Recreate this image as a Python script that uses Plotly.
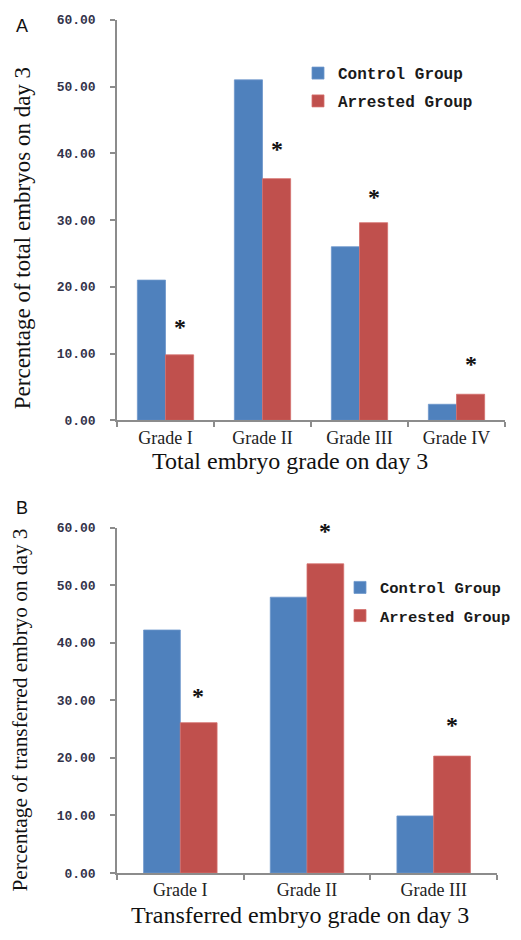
import plotly.graph_objects as go

W, H = 521, 940

# ---------------- data ----------------
cats_a = ["Grade I", "Grade II", "Grade III", "Grade IV"]
control_a = [21.0, 51.0, 26.0, 2.4]
arrested_a = [9.8, 36.2, 29.6, 3.9]
star_a = [14.8, 41.6, 34.4, 9.4]          # asterisk heights (significance marks)

cats_b = ["Grade I", "Grade II", "Grade III"]
control_b = [42.2, 47.9, 9.9]
arrested_b = [26.1, 53.7, 20.3]
star_b = [31.8, 60.5, 26.7]

series_names = ["Control Group", "Arrested Group"]
yticks = [0, 10, 20, 30, 40, 50, 60]
ytick_text = ["0.00", "10.00", "20.00", "30.00", "40.00", "50.00", "60.00"]
YMAX = 60

BLUE = "#4F81BD"
RED = "#C0504D"
AXIS = "#8c8c8c"
SERIF = "Liberation Serif, Times New Roman, serif"
MONO = "Liberation Mono, Courier New, monospace"

# panel geometry in pixels (left, right, top, bottom)
A_BOX = (117, 505, 14, 421)
B_BOX = (117, 497, 530, 881)

fig = go.Figure()

fig.add_trace(go.Bar(x=cats_a, y=control_a, name=series_names[0], marker_color=BLUE,
                     marker_line=dict(color="#6d97cc", width=0.8),
                     xaxis="x", yaxis="y", legend="legend", legendgroup="a1"))
fig.add_trace(go.Bar(x=cats_a, y=arrested_a, name=series_names[1], marker_color=RED,
                     marker_line=dict(color="#d46f6c", width=0.8),
                     xaxis="x", yaxis="y", legend="legend", legendgroup="a2"))
fig.add_trace(go.Bar(x=cats_b, y=control_b, name=series_names[0], marker_color=BLUE,
                     marker_line=dict(color="#6d97cc", width=0.8),
                     xaxis="x2", yaxis="y2", legend="legend2", legendgroup="b1"))
fig.add_trace(go.Bar(x=cats_b, y=arrested_b, name=series_names[1], marker_color=RED,
                     marker_line=dict(color="#d46f6c", width=0.8),
                     xaxis="x2", yaxis="y2", legend="legend2", legendgroup="b2"))

def px_x(p):
    return p / W

def px_y(p):
    return 1 - p / H

xcommon = dict(showline=True, linecolor=AXIS, linewidth=1.5, ticks="outside",
               tickson="boundaries", ticklen=5, tickcolor=AXIS, tickwidth=1.5,
               showgrid=False, zeroline=False,
               tickfont=dict(family=SERIF, size=18, color="#222222"))
ycommon = dict(showline=True, linecolor=AXIS, linewidth=1.5, ticks="outside",
               ticklen=5, tickcolor=AXIS, tickwidth=1.5, showgrid=False,
               zeroline=False, range=[0, YMAX], tickvals=yticks, ticktext=ytick_text,
               ticklabelstandoff=12,
               tickfont=dict(family=MONO, size=13, color="#33334a", weight="bold"))

fig.update_layout(
    width=W, height=H,
    margin=dict(l=0, r=0, t=0, b=0),
    paper_bgcolor="white", plot_bgcolor="white",
    barmode="group", bargap=0.42, bargroupgap=0,
    showlegend=True,
    xaxis=dict(domain=[px_x(A_BOX[0]), px_x(A_BOX[1])], anchor="y", **xcommon),
    yaxis=dict(domain=[px_y(A_BOX[3]), px_y(A_BOX[2])], anchor="x", **ycommon),
    xaxis2=dict(domain=[px_x(B_BOX[0]), px_x(B_BOX[1])], anchor="y2", **xcommon),
    yaxis2=dict(domain=[px_y(B_BOX[3]), px_y(B_BOX[2])], anchor="x2", **ycommon),
    legend=dict(x=px_x(298), y=px_y(51), xanchor="left", yanchor="top",
                bgcolor="rgba(0,0,0,0)", tracegroupgap=4, itemwidth=30,
                font=dict(family=MONO, size=16, color="#1a1a1a", weight="bold")),
    legend2=dict(x=px_x(340), y=px_y(574), xanchor="left", yanchor="top",
                 bgcolor="rgba(0,0,0,0)", tracegroupgap=5, itemwidth=30,
                 font=dict(family=MONO, size=15.5, color="#1a1a1a", weight="bold")),
)

ann = []

def stars(cats, vals, xref, yref, box, xshift):
    ppu = (box[3] - box[2]) / YMAX   # pixels per unit, for marks above the axis top
    out = []
    for c, s in zip(cats, vals):
        yv = min(s, YMAX)
        out.append(dict(x=c, y=yv, xref=xref, yref=yref, text="*", showarrow=False,
                        xshift=xshift, yshift=-6 + (s - yv) * ppu,
                        font=dict(family=SERIF, size=24, color="#111111", weight="bold")))
    return out

ann += stars(cats_a, star_a, "x", "y", A_BOX, 14)
ann += stars(cats_b, star_b, "x2", "y2", B_BOX, 18)

def label(x, y, text, size, family, angle=0):
    return dict(x=px_x(x), y=px_y(y), xref="paper", yref="paper", text=text,
                showarrow=False, textangle=angle, xanchor="center", yanchor="middle",
                font=dict(family=family, size=size, color="#111111"))

# panel letters
ann.append(label(22, 20, "A", 18, "Liberation Sans, Arial"))
ann.append(label(22, 510, "B", 18, "Liberation Sans, Arial"))

# axis titles
ann.append(label(22, 236, "Percentage of total embryos on day 3", 23, SERIF, -90))
ann.append(label(290, 462, "Total embryo grade on day 3", 24, SERIF))
ann.append(label(20, 716, "Percentage of transferred embryo on day 3", 21.3, SERIF, -90))
ann.append(label(300, 924, "Transferred embryo grade on day 3", 24, SERIF))

fig.update_layout(annotations=ann)

fig.write_html("out.html",
               config={"displayModeBar": False},
               post_script="document.body.style.margin='0';document.body.style.padding='0';")
